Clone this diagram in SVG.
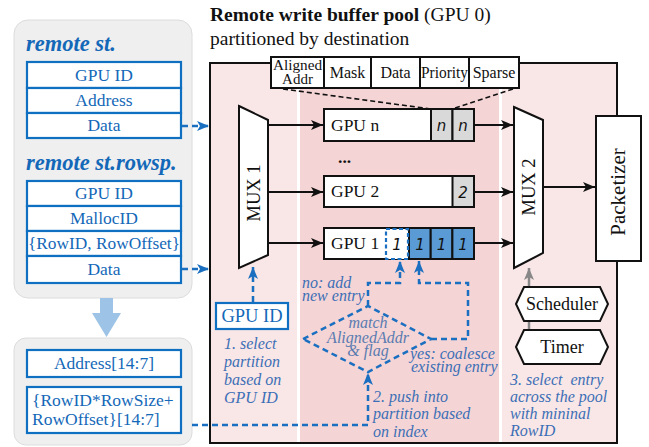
<svg xmlns="http://www.w3.org/2000/svg" width="649" height="447" viewBox="0 0 649 447">
<style>
.serif{font-family:"Liberation Serif","Times New Roman",serif}
.bt{font-family:"Liberation Serif","Times New Roman",serif;font-size:17.5px;fill:#1468b8;text-anchor:middle}
.bbox{fill:#fff;stroke:#0f6fc0;stroke-width:2.2}
.blk{fill:#fff;stroke:#111;stroke-width:2}
.lbl{font-family:"Liberation Serif","Times New Roman",serif;font-size:17.5px;fill:#111}
.cell{font-family:"DejaVu Sans",sans-serif;font-style:italic;font-size:15px;fill:#111;text-anchor:middle}
.ann{font-family:"Liberation Serif","Times New Roman",serif;font-style:italic;font-size:16px;fill:#3c6fb6}
.dash{fill:none;stroke:#1a6fc0;stroke-width:2.5;stroke-dasharray:6 4}
.arr{fill:none;stroke:#111;stroke-width:2}
.hdr{font-family:"Liberation Serif","Times New Roman",serif;font-size:16px;fill:#111;text-anchor:middle}
</style>
<defs>
<marker id="ab" markerUnits="userSpaceOnUse" markerWidth="12" markerHeight="10" refX="12" refY="5" orient="auto"><path d="M0,0 L12,5 L0,10 L3,5 z" fill="#111"/></marker>
<marker id="au" markerUnits="userSpaceOnUse" markerWidth="12" markerHeight="10" refX="12" refY="5" orient="auto"><path d="M0,0 L12,5 L0,10 L3,5 z" fill="#1a6fc0"/></marker>
<marker id="ag" markerUnits="userSpaceOnUse" markerWidth="12" markerHeight="10" refX="12" refY="5" orient="auto"><path d="M0,0 L12,5 L0,10 L3,5 z" fill="#888"/></marker>
</defs>
<rect width="649" height="447" fill="#fff"/>

<!-- Title -->
<g id="title" class="serif" font-size="19.5" fill="#111">
<text x="210" y="21"><tspan font-weight="bold">Remote write buffer pool</tspan> (GPU 0)</text>
<text x="210" y="45">partitioned by destination</text>
</g>

<!-- Left panels -->
<g id="store-panel">
<rect x="14" y="20" width="178" height="278" rx="14" fill="#efefef" stroke="#dcdcdc" stroke-width="1"/>
<text x="26" y="51" class="serif" font-size="22.5" font-weight="bold" font-style="italic" fill="#1468b8">remote st.</text>
<rect x="27" y="62" width="154" height="26" class="bbox"/>
<rect x="27" y="88" width="154" height="25" class="bbox"/>
<rect x="27" y="113" width="154" height="25" class="bbox"/>
<text x="104" y="81" class="bt">GPU ID</text>
<text x="104" y="106" class="bt">Address</text>
<text x="104" y="131" class="bt">Data</text>
<text x="26" y="170" class="serif" font-size="22.5" font-weight="bold" font-style="italic" fill="#1468b8">remote st.rowsp.</text>
<rect x="27" y="181" width="154" height="25" class="bbox"/>
<rect x="27" y="206" width="154" height="25" class="bbox"/>
<rect x="27" y="231" width="154" height="25" class="bbox"/>
<rect x="27" y="256" width="154" height="27" class="bbox"/>
<text x="104" y="199" class="bt">GPU ID</text>
<text x="104" y="224" class="bt">MallocID</text>
<text x="104" y="249" class="bt" textLength="152" lengthAdjust="spacingAndGlyphs">{RowID, RowOffset}</text>
<text x="104" y="275" class="bt">Data</text>
</g>

<g id="down-arrow">
<path d="M100,298 L113,298 L113,313 L121,313 L106.5,337 L92,313 L100,313 z" fill="#9dc3e6"/>
</g>

<g id="index-panel">
<rect x="14" y="338" width="178" height="107" rx="12" fill="#efefef" stroke="#dcdcdc" stroke-width="1"/>
<rect x="27" y="350" width="154" height="27" class="bbox"/>
<text x="104" y="369" class="bt">Address[14:7]</text>
<rect x="27" y="387" width="154" height="46" class="bbox"/>
<text x="32" y="406" class="bt" style="text-anchor:start">{RowID*RowSize+</text>
<text x="32" y="425" class="bt" style="text-anchor:start">RowOffset}[14:7]</text>
</g>

<!-- Main pool box -->
<g id="pool">
<rect x="210" y="63" width="407" height="380" fill="#f9e6e6" stroke="#111" stroke-width="2"/>
<rect x="300" y="64" width="199" height="378" fill="#f4d4d5"/>
<rect x="297" y="64" width="3" height="378" fill="#fff"/>
<rect x="499" y="64" width="3" height="378" fill="#fff"/>
</g>

<!-- Header fields -->
<g id="entry-format">
<rect x="271" y="57" width="53" height="31" class="blk"/>
<rect x="324" y="57" width="47" height="31" class="blk"/>
<rect x="371" y="57" width="49" height="31" class="blk"/>
<rect x="420" y="57" width="49" height="31" class="blk"/>
<rect x="469" y="57" width="50" height="31" class="blk"/>
<text x="297.5" y="70" class="hdr" style="font-size:15px" textLength="49" lengthAdjust="spacingAndGlyphs">Aligned</text>
<text x="297.5" y="84" class="hdr" style="font-size:15px">Addr</text>
<text x="347.5" y="78" class="hdr">Mask</text>
<text x="395.5" y="78" class="hdr">Data</text>
<text x="444.5" y="78" class="hdr" textLength="47" lengthAdjust="spacingAndGlyphs">Priority</text>
<text x="494" y="78" class="hdr">Sparse</text>
</g>

<!-- MUX 1 -->
<g id="mux1">
<polygon points="239,106 268,120 268,255 239,268" class="blk"/>
<text transform="translate(259.5,193) rotate(-90)" class="lbl" style="text-anchor:middle;font-size:18.5px">MUX 1</text>
</g>

<!-- Queues -->
<g id="queue-n">
<rect x="324" y="109" width="150" height="32" class="blk"/>
<rect x="431" y="109" width="21.5" height="32" fill="#d9d9d9" stroke="#111" stroke-width="2"/>
<rect x="452.5" y="109" width="21.5" height="32" fill="#d9d9d9" stroke="#111" stroke-width="2"/>
<text x="331" y="131" class="lbl">GPU n</text>
<text x="441.5" y="131" class="cell">n</text>
<text x="463" y="131" class="cell">n</text>
</g>
<g id="ellipsis"><text x="338" y="163" class="lbl" font-weight="bold">...</text></g>
<g id="queue-2">
<rect x="324" y="176" width="150" height="31" class="blk"/>
<rect x="452.5" y="176" width="21.5" height="31" fill="#d9d9d9" stroke="#111" stroke-width="2"/>
<text x="331" y="197" class="lbl">GPU 2</text>
<text x="463" y="198" class="cell">2</text>
</g>
<g id="queue-1">
<rect x="324" y="228" width="150" height="31" class="blk"/>
<rect x="409" y="228" width="21.7" height="31" fill="#5b9bd5" stroke="#111" stroke-width="2"/>
<rect x="430.7" y="228" width="21.7" height="31" fill="#5b9bd5" stroke="#111" stroke-width="2"/>
<rect x="452.4" y="228" width="21.6" height="31" fill="#5b9bd5" stroke="#111" stroke-width="2"/>
<rect x="386" y="229" width="22" height="30" fill="#fff" stroke="#1a6fc0" stroke-width="2.2" stroke-dasharray="4 2.5"/>
<text x="331" y="249" class="lbl">GPU 1</text>
<text x="397" y="250" class="cell">1</text>
<text x="420" y="250" class="cell">1</text>
<text x="441.5" y="250" class="cell">1</text>
<text x="463" y="250" class="cell">1</text>
</g>

<!-- MUX 2 -->
<g id="mux2">
<polygon points="514,107 543,120 543,253 514,268" class="blk"/>
<text transform="translate(534.5,187) rotate(-90)" class="lbl" style="text-anchor:middle;font-size:18.5px">MUX 2</text>
</g>

<g id="packetizer">
<rect x="596" y="116" width="45" height="145" class="blk"/>
<text transform="translate(625,192) rotate(-90)" class="lbl" style="text-anchor:middle;font-size:21px">Packetizer</text>
</g>

<!-- Connectors -->
<g id="connectors">
<line x1="283" y1="89" x2="431" y2="109" stroke="#111" stroke-width="1.6" stroke-dasharray="5 3"/>
<line x1="513" y1="89" x2="452" y2="109" stroke="#111" stroke-width="1.6" stroke-dasharray="5 3"/>
<line x1="268" y1="125" x2="323" y2="125" class="arr" marker-end="url(#ab)"/>
<line x1="268" y1="192" x2="323" y2="192" class="arr" marker-end="url(#ab)"/>
<line x1="268" y1="243" x2="323" y2="243" class="arr" marker-end="url(#ab)"/>
<line x1="474" y1="125" x2="513" y2="125" class="arr" marker-end="url(#ab)"/>
<line x1="474" y1="192" x2="513" y2="192" class="arr" marker-end="url(#ab)"/>
<line x1="474" y1="243" x2="513" y2="243" class="arr" marker-end="url(#ab)"/>
<line x1="543" y1="187" x2="595" y2="187" class="arr" marker-end="url(#ab)"/>
<line x1="529" y1="331" x2="529" y2="268" stroke="#888" stroke-width="2.5" marker-end="url(#ag)"/>
<line x1="182" y1="126" x2="209" y2="126" class="dash" marker-end="url(#au)"/>
<line x1="182" y1="269" x2="209" y2="269" class="dash" marker-end="url(#au)"/>
<line x1="253" y1="302" x2="253" y2="267" class="dash" marker-end="url(#au)"/>
<polyline points="192,425 368,425 368,373" class="dash" marker-end="url(#au)"/>
<polyline points="368,306 368,283 400,283 400,261" class="dash" marker-end="url(#au)"/>
<polyline points="431,339 468,339 468,283 419,283 419,261" class="dash" marker-end="url(#au)"/>
</g>

<!-- Diamond -->
<g id="match-decision">
<polygon points="303,339 368,306 431,339 368,372" class="dash"/>
<text x="368" y="328" class="ann" style="text-anchor:middle;fill:#5a7bb0">match</text>
<text x="368" y="343" class="ann" style="text-anchor:middle;fill:#5a7bb0">AlignedAddr</text>
<text x="368" y="356" class="ann" style="text-anchor:middle;fill:#5a7bb0">&amp; flag</text>
</g>

<g id="gpuid-box">
<rect x="216" y="303" width="72" height="26" class="bbox"/>
<text x="252" y="322" class="bt" style="font-size:18.5px">GPU ID</text>
</g>

<g id="scheduler">
<polygon points="516,304 524,287 600,287 608,304 600,321 524,321" class="blk"/>
<text x="562" y="310" class="lbl" style="text-anchor:middle;font-size:18px">Scheduler</text>
</g>
<g id="timer">
<polygon points="516,347 524,330 600,330 608,347 600,364 524,364" class="blk"/>
<text x="562" y="353" class="lbl" style="text-anchor:middle;font-size:18px">Timer</text>
</g>

<!-- Annotations -->
<g id="annotations" class="ann">
<text x="302" y="288">no: add</text>
<text x="302" y="301">new entry</text>
<text x="410" y="359">yes: coalesce</text>
<text x="411" y="372">existing entry</text>
<text x="224" y="349">1. select</text>
<text x="224" y="367">partition</text>
<text x="224" y="385">based on</text>
<text x="224" y="403">GPU ID</text>
<text x="373" y="402">2. push into</text>
<text x="373" y="419">partition based</text>
<text x="373" y="437">on index</text>
<text x="510" y="385" xml:space="preserve">3. select  entry</text>
<text x="510" y="402">across the pool</text>
<text x="510" y="419">with mininal</text>
<text x="510" y="436">RowID</text>
</g>
</svg>
